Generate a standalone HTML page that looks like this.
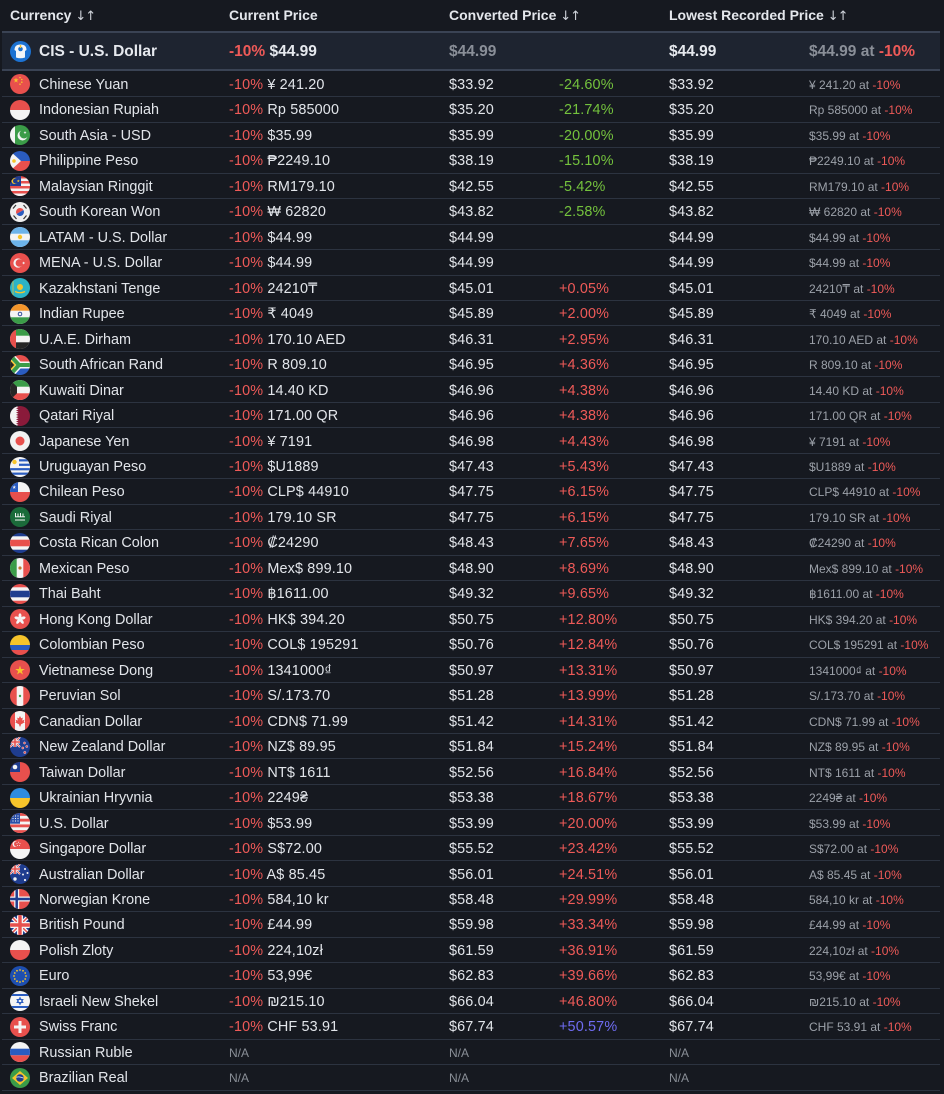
<!DOCTYPE html>
<html><head><meta charset="utf-8">
<style>
html,body{margin:0;padding:0}
body{background:#161920;width:944px;height:1094px;overflow:hidden;font-family:"Liberation Sans","DejaVu Sans",sans-serif;position:relative}
.h{position:absolute;top:1px;font-weight:bold;font-size:14px;color:#e4e7ec;line-height:28px;white-space:nowrap}
.h i{font-style:normal;font-weight:normal;font-family:"DejaVu Sans",sans-serif;font-size:13px;color:#cfd3da;letter-spacing:-1px}
.cis{position:absolute;left:2px;width:938px;top:31px;height:40px;box-sizing:border-box;border-top:2px solid #3a4354;border-bottom:2px solid #3a4354;background:#1e2430}
.cis span{position:absolute;top:1px;line-height:36px;font-size:15.5px;font-weight:bold;color:#e6e9ee;white-space:nowrap}
.cis b{color:#ef5a58}
.cis .gr{color:#8a8f98}
.icon{position:absolute;left:8px;top:7.5px;width:21px;height:21px;border-radius:50%;overflow:hidden}
#rows{position:absolute;left:2px;top:71.8px;width:938px}
.r{height:25.48px;border-bottom:1px solid #2c3340;box-sizing:border-box;position:relative}
.r span{position:absolute;top:1.2px;line-height:25px;font-size:14.4px;color:#e2e5ea;white-space:nowrap;letter-spacing:.15px}
.r b{font-weight:normal;color:#ef5a58}
.c1{left:37px;letter-spacing:0 !important}
.c2{left:227px}
.c3{left:447px}
.c4{left:557px}
.c5{left:667px}
.c6{left:807px;font-size:12px !important;color:#9ca1a9 !important;letter-spacing:0 !important}
.g{color:#74c23d !important}
.p{color:#ef5a58 !important}
.bl{color:#6f6cf2 !important}
.na{font-size:12px !important;color:#8a8f97 !important;letter-spacing:0 !important}
.f{position:absolute;left:8px;top:2.7px;width:20px;height:20px;border-radius:50%;overflow:hidden}
.f svg,.icon svg{display:block}
</style></head><body>

<div class="h" style="left:10px">Currency <i>↓↑</i></div>
<div class="h" style="left:229px">Current Price</div>
<div class="h" style="left:449px">Converted Price <i>↓↑</i></div>
<div class="h" style="left:669px">Lowest Recorded Price <i>↓↑</i></div>

<div class="cis">
<div class="icon"><svg width="21" height="21" viewBox="0 0 21 21"><rect width="21" height="21" fill="#1c72d2"/><path d="M4.5 9 Q4.5 3.5 10.5 3.5 Q16.5 3.5 16.5 9 L15 10 L15 16.5 Q10.5 18 6 16.5 L6 10 Z" fill="#f4f6f8"/><circle cx="10.5" cy="8" r="2.3" fill="#1c72d2"/><rect x="9.8" y="4" width="1.4" height="3" fill="#f6c42b"/></svg></div>
<span style="left:37px">CIS - U.S. Dollar</span>
<span style="left:227px"><b>-10%</b> $44.99</span>
<span class="gr" style="left:447px">$44.99</span>
<span style="left:667px">$44.99</span>
<span class="gr" style="left:807px">$44.99 at <b>-10%</b></span>
</div>

<div id="rows">

<div class="r"><div class="f"><svg width="20" height="20" viewBox="0 0 20 20"><rect width="20" height="20" fill="#e8504d"/><polygon points="0,-1 .225,-.309 .951,-.309 .363,.118 .588,.809 0,.382 -.588,.809 -.363,.118 -.951,-.309 -.225,-.309" transform="translate(6,6.3) scale(2.8)" fill="#f6c42b"/><circle cx="10" cy="3.5" r=".8" fill="#f6c42b"/><circle cx="11.8" cy="5.5" r=".8" fill="#f6c42b"/><circle cx="11.8" cy="8.2" r=".8" fill="#f6c42b"/><circle cx="10" cy="10.2" r=".8" fill="#f6c42b"/></svg></div><span class="c1">Chinese Yuan</span><span class="c2"><b>-10%</b> ¥ 241.20</span><span class="c3">$33.92</span><span class="c4 g">-24.60%</span><span class="c5">$33.92</span><span class="c6">¥ 241.20 at <b>-10%</b></span></div>

<div class="r"><div class="f"><svg width="20" height="20" viewBox="0 0 20 20"><rect width="20" height="10" fill="#e8504d"/><rect y="10" width="20" height="10" fill="#f4f4f4"/></svg></div><span class="c1">Indonesian Rupiah</span><span class="c2"><b>-10%</b> Rp 585000</span><span class="c3">$35.20</span><span class="c4 g">-21.74%</span><span class="c5">$35.20</span><span class="c6">Rp 585000 at <b>-10%</b></span></div>

<div class="r"><div class="f"><svg width="20" height="20" viewBox="0 0 20 20"><rect width="20" height="20" fill="#3b9c48"/><rect width="5" height="20" fill="#f4f4f4"/><circle cx="12.5" cy="10.5" r="5" fill="#f4f4f4"/><circle cx="14" cy="9" r="4.5" fill="#3b9c48"/><polygon points="0,-1 .225,-.309 .951,-.309 .363,.118 .588,.809 0,.382 -.588,.809 -.363,.118 -.951,-.309 -.225,-.309" transform="translate(15,7.5) scale(1.6)" fill="#f4f4f4"/></svg></div><span class="c1">South Asia - USD</span><span class="c2"><b>-10%</b> $35.99</span><span class="c3">$35.99</span><span class="c4 g">-20.00%</span><span class="c5">$35.99</span><span class="c6">$35.99 at <b>-10%</b></span></div>

<div class="r"><div class="f"><svg width="20" height="20" viewBox="0 0 20 20"><rect width="20" height="10" fill="#2a5cc0"/><rect y="10" width="20" height="10" fill="#e8504d"/><polygon points="0,0 11,10 0,20" fill="#f4f4f4"/><circle cx="4" cy="10" r="1.8" fill="#f6c42b"/></svg></div><span class="c1">Philippine Peso</span><span class="c2"><b>-10%</b> ₱2249.10</span><span class="c3">$38.19</span><span class="c4 g">-15.10%</span><span class="c5">$38.19</span><span class="c6">₱2249.10 at <b>-10%</b></span></div>

<div class="r"><div class="f"><svg width="20" height="20" viewBox="0 0 20 20"><rect width="20" height="20" fill="#e8504d"/><rect y="2.5" width="20" height="2.5" fill="#f4f4f4"/><rect y="7.5" width="20" height="2.5" fill="#f4f4f4"/><rect y="12.5" width="20" height="2.5" fill="#f4f4f4"/><rect y="17.5" width="20" height="2.5" fill="#f4f4f4"/><rect width="11" height="10" fill="#1f3d8f"/><circle cx="4.5" cy="5" r="3" fill="#f6c42b"/><circle cx="5.5" cy="5" r="2.5" fill="#1f3d8f"/><polygon points="0,-1 .225,-.309 .951,-.309 .363,.118 .588,.809 0,.382 -.588,.809 -.363,.118 -.951,-.309 -.225,-.309" transform="translate(8.3,5) scale(1.6)" fill="#f6c42b"/></svg></div><span class="c1">Malaysian Ringgit</span><span class="c2"><b>-10%</b> RM179.10</span><span class="c3">$42.55</span><span class="c4 g">-5.42%</span><span class="c5">$42.55</span><span class="c6">RM179.10 at <b>-10%</b></span></div>

<div class="r"><div class="f"><svg width="20" height="20" viewBox="0 0 20 20"><rect width="20" height="20" fill="#f0f0f0"/><g transform="rotate(-30 10 10)"><path d="M6 10a4 4 0 0 1 8 0z" fill="#e8504d"/><path d="M6 10a4 4 0 0 0 8 0z" fill="#2a5cc0"/></g><g stroke="#333" stroke-width="1.2"><path d="M3 6.5l3-3.5M16.5 13.5l-3 3.5M13.5 3l3 3.5M3.5 13.5l3 3.5"/></g></svg></div><span class="c1">South Korean Won</span><span class="c2"><b>-10%</b> ₩ 62820</span><span class="c3">$43.82</span><span class="c4 g">-2.58%</span><span class="c5">$43.82</span><span class="c6">₩ 62820 at <b>-10%</b></span></div>

<div class="r"><div class="f"><svg width="20" height="20" viewBox="0 0 20 20"><rect width="20" height="20" fill="#f4f4f4"/><rect width="20" height="6.7" fill="#6cb3ea"/><rect y="13.3" width="20" height="6.7" fill="#6cb3ea"/><circle cx="10" cy="10" r="2.2" fill="#f6c42b"/></svg></div><span class="c1">LATAM - U.S. Dollar</span><span class="c2"><b>-10%</b> $44.99</span><span class="c3">$44.99</span><span class="c5">$44.99</span><span class="c6">$44.99 at <b>-10%</b></span></div>

<div class="r"><div class="f"><svg width="20" height="20" viewBox="0 0 20 20"><rect width="20" height="20" fill="#e8504d"/><circle cx="8" cy="10" r="4.6" fill="#f4f4f4"/><circle cx="9.3" cy="10" r="3.7" fill="#e8504d"/><polygon points="0,-1 .225,-.309 .951,-.309 .363,.118 .588,.809 0,.382 -.588,.809 -.363,.118 -.951,-.309 -.225,-.309" transform="translate(13.5,10) rotate(-90) scale(1.7)" fill="#f4f4f4"/></svg></div><span class="c1">MENA - U.S. Dollar</span><span class="c2"><b>-10%</b> $44.99</span><span class="c3">$44.99</span><span class="c5">$44.99</span><span class="c6">$44.99 at <b>-10%</b></span></div>

<div class="r"><div class="f"><svg width="20" height="20" viewBox="0 0 20 20"><rect width="20" height="20" fill="#2bb3c6"/><circle cx="10" cy="9" r="3" fill="#f6c42b"/><path d="M5 13.5q5 2.5 10 0" stroke="#f6c42b" stroke-width="1.3" fill="none"/><rect x="2.5" y="3" width="1" height="14" fill="#f6c42b" opacity=".7"/></svg></div><span class="c1">Kazakhstani Tenge</span><span class="c2"><b>-10%</b> 24210₸</span><span class="c3">$45.01</span><span class="c4 p">+0.05%</span><span class="c5">$45.01</span><span class="c6">24210₸ at <b>-10%</b></span></div>

<div class="r"><div class="f"><svg width="20" height="20" viewBox="0 0 20 20"><rect width="20" height="20" fill="#f4f4f4"/><rect width="20" height="6.7" fill="#f4962b"/><rect y="13.3" width="20" height="6.7" fill="#3b9c48"/><circle cx="10" cy="10" r="1.8" fill="none" stroke="#1f3d8f" stroke-width=".9"/></svg></div><span class="c1">Indian Rupee</span><span class="c2"><b>-10%</b> ₹ 4049</span><span class="c3">$45.89</span><span class="c4 p">+2.00%</span><span class="c5">$45.89</span><span class="c6">₹ 4049 at <b>-10%</b></span></div>

<div class="r"><div class="f"><svg width="20" height="20" viewBox="0 0 20 20"><rect width="20" height="20" fill="#f4f4f4"/><rect width="20" height="6.7" fill="#3b9c48"/><rect y="13.3" width="20" height="6.7" fill="#262626"/><rect width="6" height="20" fill="#e8504d"/></svg></div><span class="c1">U.A.E. Dirham</span><span class="c2"><b>-10%</b> 170.10 AED</span><span class="c3">$46.31</span><span class="c4 p">+2.95%</span><span class="c5">$46.31</span><span class="c6">170.10 AED at <b>-10%</b></span></div>

<div class="r"><div class="f"><svg width="20" height="20" viewBox="0 0 20 20"><rect width="20" height="10" fill="#e8504d"/><rect y="10" width="20" height="10" fill="#2a5cc0"/><path d="M-1 -1L9 10H21M-1 21L9 10" stroke="#f4f4f4" stroke-width="7" fill="none"/><path d="M-1 -1L9 10H21M-1 21L9 10" stroke="#3b9c48" stroke-width="4" fill="none"/><polygon points="0,3.5 6,10 0,16.5" fill="#f6c42b"/><polygon points="0,5.5 4.2,10 0,14.5" fill="#262626"/></svg></div><span class="c1">South African Rand</span><span class="c2"><b>-10%</b> R 809.10</span><span class="c3">$46.95</span><span class="c4 p">+4.36%</span><span class="c5">$46.95</span><span class="c6">R 809.10 at <b>-10%</b></span></div>

<div class="r"><div class="f"><svg width="20" height="20" viewBox="0 0 20 20"><rect width="20" height="20" fill="#f4f4f4"/><rect width="20" height="6.7" fill="#3b9c48"/><rect y="13.3" width="20" height="6.7" fill="#e8504d"/><polygon points="0,0 7,6.7 7,13.3 0,20" fill="#262626"/></svg></div><span class="c1">Kuwaiti Dinar</span><span class="c2"><b>-10%</b> 14.40 KD</span><span class="c3">$46.96</span><span class="c4 p">+4.38%</span><span class="c5">$46.96</span><span class="c6">14.40 KD at <b>-10%</b></span></div>

<div class="r"><div class="f"><svg width="20" height="20" viewBox="0 0 20 20"><rect width="20" height="20" fill="#8a1a3a"/><polygon points="0,0 6,0 8.5,1.11 6,2.22 8.5,3.33 6,4.44 8.5,5.56 6,6.67 8.5,7.78 6,8.89 8.5,10 6,11.11 8.5,12.22 6,13.33 8.5,14.44 6,15.56 8.5,16.67 6,17.78 8.5,18.89 6,20 0,20" fill="#f4f4f4"/></svg></div><span class="c1">Qatari Riyal</span><span class="c2"><b>-10%</b> 171.00 QR</span><span class="c3">$46.96</span><span class="c4 p">+4.38%</span><span class="c5">$46.96</span><span class="c6">171.00 QR at <b>-10%</b></span></div>

<div class="r"><div class="f"><svg width="20" height="20" viewBox="0 0 20 20"><rect width="20" height="20" fill="#f2f2f2"/><circle cx="10" cy="10" r="4.5" fill="#e8504d"/></svg></div><span class="c1">Japanese Yen</span><span class="c2"><b>-10%</b> ¥ 7191</span><span class="c3">$46.98</span><span class="c4 p">+4.43%</span><span class="c5">$46.98</span><span class="c6">¥ 7191 at <b>-10%</b></span></div>

<div class="r"><div class="f"><svg width="20" height="20" viewBox="0 0 20 20"><rect width="20" height="20" fill="#f4f4f4"/><rect x="9" y="2.22" width="11" height="2.22" fill="#2a5cc0"/><rect x="9" y="6.67" width="11" height="2.22" fill="#2a5cc0"/><rect y="11.11" width="20" height="2.22" fill="#2a5cc0"/><rect y="15.56" width="20" height="2.22" fill="#2a5cc0"/><circle cx="4.5" cy="5" r="2.2" fill="#f6c42b"/></svg></div><span class="c1">Uruguayan Peso</span><span class="c2"><b>-10%</b> $U1889</span><span class="c3">$47.43</span><span class="c4 p">+5.43%</span><span class="c5">$47.43</span><span class="c6">$U1889 at <b>-10%</b></span></div>

<div class="r"><div class="f"><svg width="20" height="20" viewBox="0 0 20 20"><rect width="20" height="10" fill="#f4f4f4"/><rect y="10" width="20" height="10" fill="#e8504d"/><rect width="8" height="10" fill="#2a5cc0"/><polygon points="0,-1 .225,-.309 .951,-.309 .363,.118 .588,.809 0,.382 -.588,.809 -.363,.118 -.951,-.309 -.225,-.309" transform="translate(4.2,5.2) scale(2)" fill="#f4f4f4"/></svg></div><span class="c1">Chilean Peso</span><span class="c2"><b>-10%</b> CLP$ 44910</span><span class="c3">$47.75</span><span class="c4 p">+6.15%</span><span class="c5">$47.75</span><span class="c6">CLP$ 44910 at <b>-10%</b></span></div>

<div class="r"><div class="f"><svg width="20" height="20" viewBox="0 0 20 20"><rect width="20" height="20" fill="#1b6b3a"/><g fill="#f4f4f4"><rect x="5" y="6" width="1" height="4"/><rect x="7.5" y="6.5" width="1" height="3.5"/><rect x="10" y="6" width="1" height="4"/><rect x="12.5" y="6.5" width="1" height="3.5"/><rect x="5" y="9.3" width="10" height="1"/><rect x="5" y="12.5" width="10" height="1"/></g></svg></div><span class="c1">Saudi Riyal</span><span class="c2"><b>-10%</b> 179.10 SR</span><span class="c3">$47.75</span><span class="c4 p">+6.15%</span><span class="c5">$47.75</span><span class="c6">179.10 SR at <b>-10%</b></span></div>

<div class="r"><div class="f"><svg width="20" height="20" viewBox="0 0 20 20"><rect width="20" height="20" fill="#1f3d8f"/><rect y="3.3" width="20" height="13.4" fill="#f4f4f4"/><rect y="6.7" width="20" height="6.6" fill="#e8504d"/></svg></div><span class="c1">Costa Rican Colon</span><span class="c2"><b>-10%</b> ₡24290</span><span class="c3">$48.43</span><span class="c4 p">+7.65%</span><span class="c5">$48.43</span><span class="c6">₡24290 at <b>-10%</b></span></div>

<div class="r"><div class="f"><svg width="20" height="20" viewBox="0 0 20 20"><rect width="20" height="20" fill="#f4f4f4"/><rect width="6.7" height="20" fill="#3b9c48"/><rect x="13.3" width="6.7" height="20" fill="#e8504d"/><circle cx="10" cy="10" r="1.6" fill="#c0782e"/></svg></div><span class="c1">Mexican Peso</span><span class="c2"><b>-10%</b> Mex$ 899.10</span><span class="c3">$48.90</span><span class="c4 p">+8.69%</span><span class="c5">$48.90</span><span class="c6">Mex$ 899.10 at <b>-10%</b></span></div>

<div class="r"><div class="f"><svg width="20" height="20" viewBox="0 0 20 20"><rect width="20" height="20" fill="#e8504d"/><rect y="3.3" width="20" height="13.4" fill="#f4f4f4"/><rect y="6.7" width="20" height="6.6" fill="#1f3d8f"/></svg></div><span class="c1">Thai Baht</span><span class="c2"><b>-10%</b> ฿1611.00</span><span class="c3">$49.32</span><span class="c4 p">+9.65%</span><span class="c5">$49.32</span><span class="c6">฿1611.00 at <b>-10%</b></span></div>

<div class="r"><div class="f"><svg width="20" height="20" viewBox="0 0 20 20"><rect width="20" height="20" fill="#e8504d"/><g fill="#f4f4f4"><ellipse cx="10" cy="7" rx="1.5" ry="2.8"/><ellipse cx="10" cy="7" rx="1.5" ry="2.8" transform="rotate(72 10 10)"/><ellipse cx="10" cy="7" rx="1.5" ry="2.8" transform="rotate(144 10 10)"/><ellipse cx="10" cy="7" rx="1.5" ry="2.8" transform="rotate(216 10 10)"/><ellipse cx="10" cy="7" rx="1.5" ry="2.8" transform="rotate(288 10 10)"/></g></svg></div><span class="c1">Hong Kong Dollar</span><span class="c2"><b>-10%</b> HK$ 394.20</span><span class="c3">$50.75</span><span class="c4 p">+12.80%</span><span class="c5">$50.75</span><span class="c6">HK$ 394.20 at <b>-10%</b></span></div>

<div class="r"><div class="f"><svg width="20" height="20" viewBox="0 0 20 20"><rect width="20" height="10" fill="#f6c42b"/><rect y="10" width="20" height="5" fill="#2a5cc0"/><rect y="15" width="20" height="5" fill="#e8504d"/></svg></div><span class="c1">Colombian Peso</span><span class="c2"><b>-10%</b> COL$ 195291</span><span class="c3">$50.76</span><span class="c4 p">+12.84%</span><span class="c5">$50.76</span><span class="c6">COL$ 195291 at <b>-10%</b></span></div>

<div class="r"><div class="f"><svg width="20" height="20" viewBox="0 0 20 20"><rect width="20" height="20" fill="#e8504d"/><polygon points="0,-1 .225,-.309 .951,-.309 .363,.118 .588,.809 0,.382 -.588,.809 -.363,.118 -.951,-.309 -.225,-.309" transform="translate(10,10.5) scale(5)" fill="#f6c42b"/></svg></div><span class="c1">Vietnamese Dong</span><span class="c2"><b>-10%</b> 1341000₫</span><span class="c3">$50.97</span><span class="c4 p">+13.31%</span><span class="c5">$50.97</span><span class="c6">1341000₫ at <b>-10%</b></span></div>

<div class="r"><div class="f"><svg width="20" height="20" viewBox="0 0 20 20"><rect width="20" height="20" fill="#e8504d"/><rect x="6.7" width="6.6" height="20" fill="#f4f4f4"/><circle cx="10" cy="10" r="1.2" fill="#3b9c48"/></svg></div><span class="c1">Peruvian Sol</span><span class="c2"><b>-10%</b> S/.173.70</span><span class="c3">$51.28</span><span class="c4 p">+13.99%</span><span class="c5">$51.28</span><span class="c6">S/.173.70 at <b>-10%</b></span></div>

<div class="r"><div class="f"><svg width="20" height="20" viewBox="0 0 20 20"><rect width="20" height="20" fill="#e8504d"/><rect x="5" width="10" height="20" fill="#f4f4f4"/><polygon points="10,5 11.2,7.2 12.8,6.6 12.2,9.6 14.5,8.6 13.8,10.6 14.8,11.2 11,13.4 10.4,15.5 9.6,15.5 9,13.4 5.2,11.2 6.2,10.6 5.5,8.6 7.8,9.6 7.2,6.6 8.8,7.2" fill="#e8504d"/></svg></div><span class="c1">Canadian Dollar</span><span class="c2"><b>-10%</b> CDN$ 71.99</span><span class="c3">$51.42</span><span class="c4 p">+14.31%</span><span class="c5">$51.42</span><span class="c6">CDN$ 71.99 at <b>-10%</b></span></div>

<div class="r"><div class="f"><svg width="20" height="20" viewBox="0 0 20 20"><rect width="20" height="20" fill="#1f3d8f"/><g><path d="M0 0L10 10M10 0L0 10" stroke="#f4f4f4" stroke-width="2"/><path d="M0 0L10 10M10 0L0 10" stroke="#e8504d" stroke-width=".8"/><path d="M5 0V10M0 5H10" stroke="#f4f4f4" stroke-width="3"/><path d="M5 0V10M0 5H10" stroke="#e8504d" stroke-width="1.6"/></g><g fill="#e8504d" stroke="#f4f4f4" stroke-width=".4"><circle cx="14.5" cy="6" r="1.1"/><circle cx="16.8" cy="9.5" r="1.1"/><circle cx="12.8" cy="11" r="1.1"/><circle cx="14.8" cy="15.5" r="1.2"/></g></svg></div><span class="c1">New Zealand Dollar</span><span class="c2"><b>-10%</b> NZ$ 89.95</span><span class="c3">$51.84</span><span class="c4 p">+15.24%</span><span class="c5">$51.84</span><span class="c6">NZ$ 89.95 at <b>-10%</b></span></div>

<div class="r"><div class="f"><svg width="20" height="20" viewBox="0 0 20 20"><rect width="20" height="20" fill="#e8504d"/><rect width="10" height="10" fill="#1f3d8f"/><circle cx="5" cy="5" r="2.3" fill="#f4f4f4"/></svg></div><span class="c1">Taiwan Dollar</span><span class="c2"><b>-10%</b> NT$ 1611</span><span class="c3">$52.56</span><span class="c4 p">+16.84%</span><span class="c5">$52.56</span><span class="c6">NT$ 1611 at <b>-10%</b></span></div>

<div class="r"><div class="f"><svg width="20" height="20" viewBox="0 0 20 20"><rect width="20" height="10" fill="#2d8ce0"/><rect y="10" width="20" height="10" fill="#f6c42b"/></svg></div><span class="c1">Ukrainian Hryvnia</span><span class="c2"><b>-10%</b> 2249₴</span><span class="c3">$53.38</span><span class="c4 p">+18.67%</span><span class="c5">$53.38</span><span class="c6">2249₴ at <b>-10%</b></span></div>

<div class="r"><div class="f"><svg width="20" height="20" viewBox="0 0 20 20"><rect width="20" height="20" fill="#f4f4f4"/><g fill="#e8504d"><rect width="20" height="2.86"/><rect y="5.71" width="20" height="2.86"/><rect y="11.43" width="20" height="2.86"/><rect y="17.14" width="20" height="2.86"/></g><rect width="10" height="10.7" fill="#2a4fa8"/><g fill="#f4f4f4"><circle cx="3" cy="3" r=".6"/><circle cx="5.5" cy="3" r=".6"/><circle cx="8" cy="3" r=".6"/><circle cx="3" cy="5.5" r=".6"/><circle cx="5.5" cy="5.5" r=".6"/><circle cx="8" cy="5.5" r=".6"/><circle cx="3" cy="8" r=".6"/><circle cx="5.5" cy="8" r=".6"/><circle cx="8" cy="8" r=".6"/></g></svg></div><span class="c1">U.S. Dollar</span><span class="c2"><b>-10%</b> $53.99</span><span class="c3">$53.99</span><span class="c4 p">+20.00%</span><span class="c5">$53.99</span><span class="c6">$53.99 at <b>-10%</b></span></div>

<div class="r"><div class="f"><svg width="20" height="20" viewBox="0 0 20 20"><rect width="20" height="10" fill="#e8504d"/><rect y="10" width="20" height="10" fill="#f4f4f4"/><circle cx="5.5" cy="5" r="3" fill="#f4f4f4"/><circle cx="6.8" cy="5" r="2.8" fill="#e8504d"/><g fill="#f4f4f4"><circle cx="8.5" cy="3.2" r=".5"/><circle cx="10" cy="4.6" r=".5"/><circle cx="9.4" cy="6.5" r=".5"/><circle cx="7.6" cy="6.5" r=".5"/><circle cx="7" cy="4.6" r=".5"/></g></svg></div><span class="c1">Singapore Dollar</span><span class="c2"><b>-10%</b> S$72.00</span><span class="c3">$55.52</span><span class="c4 p">+23.42%</span><span class="c5">$55.52</span><span class="c6">S$72.00 at <b>-10%</b></span></div>

<div class="r"><div class="f"><svg width="20" height="20" viewBox="0 0 20 20"><rect width="20" height="20" fill="#1f3d8f"/><g><path d="M0 0L10 10M10 0L0 10" stroke="#f4f4f4" stroke-width="2"/><path d="M0 0L10 10M10 0L0 10" stroke="#e8504d" stroke-width=".8"/><path d="M5 0V10M0 5H10" stroke="#f4f4f4" stroke-width="3"/><path d="M5 0V10M0 5H10" stroke="#e8504d" stroke-width="1.6"/></g><g fill="#f4f4f4"><circle cx="5" cy="15" r="1.7"/><circle cx="15" cy="5" r="1"/><circle cx="17.5" cy="9" r="1"/><circle cx="13" cy="10.5" r="1"/><circle cx="15" cy="16" r="1.1"/></g></svg></div><span class="c1">Australian Dollar</span><span class="c2"><b>-10%</b> A$ 85.45</span><span class="c3">$56.01</span><span class="c4 p">+24.51%</span><span class="c5">$56.01</span><span class="c6">A$ 85.45 at <b>-10%</b></span></div>

<div class="r"><div class="f"><svg width="20" height="20" viewBox="0 0 20 20"><rect width="20" height="20" fill="#e8504d"/><rect x="4.2" width="5" height="20" fill="#f4f4f4"/><rect y="7.5" width="20" height="5" fill="#f4f4f4"/><rect x="5.45" width="2.5" height="20" fill="#1f3d8f"/><rect y="8.75" width="20" height="2.5" fill="#1f3d8f"/></svg></div><span class="c1">Norwegian Krone</span><span class="c2"><b>-10%</b> 584,10 kr</span><span class="c3">$58.48</span><span class="c4 p">+29.99%</span><span class="c5">$58.48</span><span class="c6">584,10 kr at <b>-10%</b></span></div>

<div class="r"><div class="f"><svg width="20" height="20" viewBox="0 0 20 20"><rect width="20" height="20" fill="#1f3d8f"/><path d="M0 0L20 20M20 0L0 20" stroke="#f4f4f4" stroke-width="4"/><path d="M0 0L20 20M20 0L0 20" stroke="#e8504d" stroke-width="1.5"/><path d="M10 0V20M0 10H20" stroke="#f4f4f4" stroke-width="6"/><path d="M10 0V20M0 10H20" stroke="#e8504d" stroke-width="3.4"/></svg></div><span class="c1">British Pound</span><span class="c2"><b>-10%</b> £44.99</span><span class="c3">$59.98</span><span class="c4 p">+33.34%</span><span class="c5">$59.98</span><span class="c6">£44.99 at <b>-10%</b></span></div>

<div class="r"><div class="f"><svg width="20" height="20" viewBox="0 0 20 20"><rect width="20" height="10" fill="#f4f4f4"/><rect y="10" width="20" height="10" fill="#e8504d"/></svg></div><span class="c1">Polish Zloty</span><span class="c2"><b>-10%</b> 224,10zł</span><span class="c3">$61.59</span><span class="c4 p">+36.91%</span><span class="c5">$61.59</span><span class="c6">224,10zł at <b>-10%</b></span></div>

<div class="r"><div class="f"><svg width="20" height="20" viewBox="0 0 20 20"><rect width="20" height="20" fill="#1e4fb0"/><g fill="#f6c42b"><circle cx="10" cy="4" r=".9"/><circle cx="13" cy="4.8" r=".9"/><circle cx="15.2" cy="7" r=".9"/><circle cx="16" cy="10" r=".9"/><circle cx="15.2" cy="13" r=".9"/><circle cx="13" cy="15.2" r=".9"/><circle cx="10" cy="16" r=".9"/><circle cx="7" cy="15.2" r=".9"/><circle cx="4.8" cy="13" r=".9"/><circle cx="4" cy="10" r=".9"/><circle cx="4.8" cy="7" r=".9"/><circle cx="7" cy="4.8" r=".9"/></g></svg></div><span class="c1">Euro</span><span class="c2"><b>-10%</b> 53,99€</span><span class="c3">$62.83</span><span class="c4 p">+39.66%</span><span class="c5">$62.83</span><span class="c6">53,99€ at <b>-10%</b></span></div>

<div class="r"><div class="f"><svg width="20" height="20" viewBox="0 0 20 20"><rect width="20" height="20" fill="#f4f4f4"/><rect y="3" width="20" height="2" fill="#2a5cc0"/><rect y="15" width="20" height="2" fill="#2a5cc0"/><g fill="none" stroke="#2a5cc0" stroke-width=".9"><polygon points="10,6.5 13,11.5 7,11.5"/><polygon points="10,13.5 13,8.5 7,8.5"/></g></svg></div><span class="c1">Israeli New Shekel</span><span class="c2"><b>-10%</b> ₪215.10</span><span class="c3">$66.04</span><span class="c4 p">+46.80%</span><span class="c5">$66.04</span><span class="c6">₪215.10 at <b>-10%</b></span></div>

<div class="r"><div class="f"><svg width="20" height="20" viewBox="0 0 20 20"><rect width="20" height="20" fill="#e8504d"/><rect x="8.5" y="4" width="3" height="12" fill="#f4f4f4"/><rect x="4" y="8.5" width="12" height="3" fill="#f4f4f4"/></svg></div><span class="c1">Swiss Franc</span><span class="c2"><b>-10%</b> CHF 53.91</span><span class="c3">$67.74</span><span class="c4 bl">+50.57%</span><span class="c5">$67.74</span><span class="c6">CHF 53.91 at <b>-10%</b></span></div>

<div class="r"><div class="f"><svg width="20" height="20" viewBox="0 0 20 20"><rect width="20" height="20" fill="#f4f4f4"/><rect y="6.7" width="20" height="6.6" fill="#2a5cc0"/><rect y="13.3" width="20" height="6.7" fill="#e8504d"/></svg></div><span class="c1">Russian Ruble</span><span class="c2 na">N/A</span><span class="c3 na">N/A</span><span class="c5 na">N/A</span></div>

<div class="r"><div class="f"><svg width="20" height="20" viewBox="0 0 20 20"><rect width="20" height="20" fill="#3b9c48"/><polygon points="10,3 18,10 10,17 2,10" fill="#f6c42b"/><circle cx="10" cy="10" r="3.8" fill="#1f3d8f"/><path d="M6.4 9.2q3.6-1 7.2 1" stroke="#f4f4f4" stroke-width=".8" fill="none"/></svg></div><span class="c1">Brazilian Real</span><span class="c2 na">N/A</span><span class="c3 na">N/A</span><span class="c5 na">N/A</span></div>

</div>
</body></html>
